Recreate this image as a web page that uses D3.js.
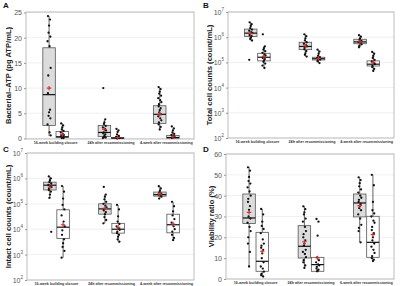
<!DOCTYPE html>
<html>
<head>
<meta charset="utf-8">
<script src="https://cdn.jsdelivr.net/npm/d3@7"></script>
<style>
  body { margin: 0; background: #fff; }
  svg { display: block; font-family: "Liberation Sans", Arial, sans-serif; }
</style>
</head>
<body>
<div id="chart"></div>
<script>
// --------------------------------------
//  Data
// --------------------------------------

const groupsABC = ["16-week building closure", "24h after recommissioning", "4-week after recommissioning"];
const groupsD = ["16-week building closure", "24h after recommissioning", "6-week after recommissioning"];

// box stats: [whiskerLow, q1, median, q3, whiskerHigh, mean], order: gray, white per group
const atpStats = [
  [0.5, 2.6, 8.7, 18, 24.3, 10], [0.05, 0.2, 0.35, 1.4, 3.0, 0.8],
  [0.05, 0.4, 1.2, 2.6, 3.8, 1.8], [0, 0.02, 0.08, 0.2, 0.5, 0.2],
  [1.6, 3.0, 4.8, 6.5, 10.2, 4.8], [0, 0.05, 0.2, 0.6, 1.2, 0.35]
];
const atpPoints = [
  [24.3, 23.6, 22.4, 21, 20.2, 19.3, 18.3, 14, 12.5, 9, 5.7, 5.2, 4.5, 4, 2.8, 1.2, 0.6],
  [3, 2.6, 2.2, 1.8, 1.5, 1.2, 0.9, 0.7, 0.5, 0.4, 0.3, 0.2, 0.1, 0.1],
  [10, 3.8, 3.2, 2.9, 2.5, 2.2, 1.9, 1.6, 1.2, 1, 0.8, 0.5, 0.3, 0.2, 0.1],
  [1.9, 1.6, 1.3, 0.8, 0.5, 0.3, 0.2, 0.1, 0.05],
  [10.2, 9.8, 9.3, 8.9, 8.5, 8, 7.6, 7.2, 6.8, 6.4, 6, 5.6, 5.2, 4.8, 4.4, 4, 3.6, 3.2, 2.8, 2.3, 1.8],
  [2.4, 2, 1.6, 1.2, 0.9, 0.7, 0.5, 0.3, 0.1]
];

const totalStats = [
  [7.4e5, 1.07e6, 1.45e6, 2.1e6, 3.9e6, 1.4e6], [6e4, 1.15e5, 1.6e5, 2.3e5, 4.3e5, 1.7e5],
  [1.7e5, 3.2e5, 4.3e5, 6.3e5, 1.3e6, 4.5e5], [9.4e4, 1.25e5, 1.4e5, 1.6e5, 3.2e5, 1.45e5],
  [4e5, 5.5e5, 6.5e5, 8.3e5, 1.2e6, 6.6e5], [4.6e4, 7.2e4, 8.5e4, 1.15e5, 2.6e5, 1e5]
];
const totalPoints = [
  [3.9e6, 3.3e6, 2.8e6, 2.3e6, 2e6, 1.8e6, 1.6e6, 1.45e6, 1.3e6, 1.2e6, 1.1e6, 9.5e5, 8.5e5, 7.4e5, 1.26e5],
  [1.3e6, 4.3e5, 3.7e5, 3.2e5, 2.8e5, 2.4e5, 2.1e5, 1.9e5, 1.7e5, 1.5e5, 1.35e5, 1.2e5, 1.05e5, 9e4, 7.5e4, 6e4],
  [1.3e6, 1.1e6, 9e5, 7.5e5, 6.3e5, 5.5e5, 4.8e5, 4.3e5, 3.8e5, 3.3e5, 2.8e5, 2.3e5, 2e5, 1.7e5],
  [3.2e5, 2.7e5, 2.2e5, 1.8e5, 1.6e5, 1.5e5, 1.4e5, 1.3e5, 1.2e5, 1.1e5, 9.4e4],
  [1.2e6, 1.05e6, 9e5, 8e5, 7.2e5, 6.5e5, 5.8e5, 5.2e5, 4.6e5, 4e5],
  [2.6e5, 2.2e5, 1.8e5, 1.5e5, 1.25e5, 1.1e5, 9.5e4, 8.5e4, 7.5e4, 6.5e4, 5.5e4, 4.6e4]
];

const intactStats = [
  [1.7e5, 3.5e5, 5.4e5, 7.1e5, 1.2e6, 4.6e5], [7.6e2, 4.3e3, 1.2e4, 5.8e4, 5e5, 1.5e4],
  [1.7e4, 3.9e4, 6.3e4, 1e5, 2.3e5, 6.6e4], [3.2e3, 7e3, 1e4, 1.7e4, 9e4, 1.2e4],
  [1.6e5, 2e5, 2.3e5, 2.9e5, 4.9e5, 2.4e5], [3.7e3, 7.2e3, 1.5e4, 3.9e4, 1.2e5, 1.6e4]
];
const intactPoints = [
  [1.2e6, 1e6, 8.5e5, 7.2e5, 6.3e5, 5.6e5, 5e5, 4.5e5, 4e5, 3.5e5, 3e5, 2.3e5, 1.7e5, 7.9e3],
  [5e5, 3e5, 1.6e5, 9e4, 6e4, 3.5e4, 2e4, 1.3e4, 9e3, 6e3, 4e3, 2.8e3, 2e3, 1.4e3, 7.6e2],
  [4.6e5, 2.3e5, 1.9e5, 1.5e5, 1.2e5, 1e5, 8.5e4, 7.2e4, 6.3e4, 5.5e4, 4.7e4, 3.9e4, 3e4, 2.3e4, 1.7e4],
  [9e4, 6e4, 3.2e4, 2e4, 1.6e4, 1.3e4, 1.1e4, 9.5e3, 8e3, 7e3, 6e3, 5e3, 4e3, 3.2e3],
  [4.9e5, 4e5, 3.3e5, 2.8e5, 2.5e5, 2.3e5, 2.1e5, 1.9e5, 1.6e5],
  [1.2e5, 8e4, 5e4, 3.5e4, 2.5e4, 1.8e4, 1.3e4, 1e4, 8e3, 6e3, 4.5e3, 3.7e3]
];

const viabStats = [
  [6, 26.6, 29.3, 40.8, 53.8, 32], [1.2, 3.7, 8.5, 22.4, 33.6, 13.3],
  [5.3, 10.1, 15.7, 25.6, 34.9, 17.9], [3.7, 3.7, 6.9, 10.4, 10.4, 10.1],
  [17.6, 29.8, 36.5, 40.8, 48.8, 35.2], [8.6, 10.4, 17.6, 30.1, 50, 21.3]
];
const viabPoints = [
  [53.6, 52, 49, 47, 45.8, 44, 42, 40, 38.5, 37, 35, 33.2, 30, 29, 27, 25, 23, 20, 17, 13, 6],
  [33.6, 31, 27.5, 25.5, 24, 22, 19, 17, 16, 15, 14, 12.3, 10, 8, 6, 5, 3.5, 2.5, 1.8, 1.2],
  [34.9, 33.5, 32, 31, 29, 27.5, 25, 23, 21.5, 20, 18.5, 17, 16, 14, 13, 12, 10.5, 9, 8, 6.5, 5.3],
  [28.8, 27.5, 20.8, 10.4, 9, 8, 7, 6.5, 5.8, 5, 4.5, 4, 3.7],
  [48.8, 47.5, 46, 44.5, 43, 41.5, 40, 39, 38, 37, 36, 35, 34, 33, 31, 29, 26, 24.5, 23, 17.6],
  [50, 45, 37, 33, 31.5, 30, 28, 27, 25, 23.5, 22, 20, 18.5, 17, 15.5, 14, 12.5, 11, 10, 9.2, 8.6]
];

const linTicksA = [0, 5, 10, 15, 20, 25];
const linTicksD = [0, 10, 20, 30, 40, 50, 60];
const logTicks = [1e2, 1e3, 1e4, 1e5, 1e6, 1e7];

// --------------------------------------
//  Canvas
// --------------------------------------

const width = 400, height = 286;

const svg = d3.select("#chart")
  .append("svg")
    .attr("width", width)
    .attr("height", height)
    .attr("viewBox", [0, 0, width, height]);

const jitter = [-1.1, 0.9, 0, -0.5, 1.3, -1.5, 0.5, 1.6, -0.8];

function panel(p) {
  const g = svg.append("g");

  const x = d3.scalePoint()
      .domain(p.groups)
      .range([p.x0 + 2, p.x1])
      .padding(0.5);

  const y = (p.log ? d3.scaleLog() : d3.scaleLinear())
      .domain(p.domain)
      .range([p.y1, p.y0]);

  // grid
  g.append("g")
    .selectAll("line")
    .data(p.ticks)
    .join("line")
      .attr("x1", p.x0).attr("x2", p.x1)
      .attr("y1", d => y(d)).attr("y2", d => y(d))
      .attr("stroke", "#ececec")
      .attr("stroke-width", 0.8);

  // frame
  g.append("rect")
    .attr("x", p.x0).attr("y", p.y0)
    .attr("width", p.x1 - p.x0).attr("height", p.y1 - p.y0)
    .attr("fill", "none")
    .attr("stroke", "#b5b5b5")
    .attr("stroke-width", 0.9);

  // y axis
  const axis = g.append("g")
    .attr("transform", `translate(${p.x0}, 0)`)
    .call(d3.axisLeft(y).tickValues(p.ticks).tickSize(2).tickPadding(2).tickFormat(""));
  axis.select(".domain").remove();
  axis.selectAll(".tick line").attr("stroke", "#999");

  const tl = axis.selectAll(".tick text")
    .attr("fill", "#555")
    .attr("font-size", 7)
    .attr("dy", "0.35em");
  if (p.log) {
    tl.each(function(d) {
      const t = d3.select(this);
      t.append("tspan").text("10");
      t.append("tspan").text(Math.round(Math.log10(d)))
        .attr("font-size", 4.5).attr("dy", "-0.9em");
    });
  } else {
    tl.text(d => d);
  }

  // y title
  g.append("text")
    .attr("transform", `translate(${p.titleX}, ${(p.y0 + p.y1) / 2}) rotate(-90)`)
    .attr("text-anchor", "middle")
    .attr("font-size", 7.6)
    .attr("font-weight", "bold")
    .attr("fill", "#222")
    .text(p.title);

  // panel letter
  g.append("text")
    .attr("x", p.letterX).attr("y", p.letterY)
    .attr("font-size", 8)
    .attr("font-weight", "bold")
    .attr("fill", "#111")
    .text(p.letter);

  // group labels
  g.append("g")
    .selectAll("text")
    .data(p.groups)
    .join("text")
      .attr("x", d => x(d))
      .attr("y", p.y1 + 5.2)
      .attr("text-anchor", "middle")
      .attr("font-size", 3.7)
      .attr("font-weight", "bold")
      .attr("fill", "#333")
      .text(d => d);

  // boxes
  const boxes = p.stats.map((s, i) => ({
    cx: x(p.groups[Math.floor(i / 2)]) + (i % 2 === 0 ? -6.6 : 6.6),
    lo: s[0], q1: s[1], med: s[2], q3: s[3], hi: s[4], mean: s[5],
    fill: i % 2 === 0 ? "#dcdcdc" : "#ffffff",
    pts: p.points[i]
  }));
  const bw = 12.5;

  const bg = g.append("g")
    .selectAll("g")
    .data(boxes)
    .join("g");

  bg.append("line")
    .attr("x1", d => d.cx).attr("x2", d => d.cx)
    .attr("y1", d => y(d.lo)).attr("y2", d => y(d.hi))
    .attr("stroke", "#222")
    .attr("stroke-width", 0.7);

  bg.append("rect")
    .attr("x", d => d.cx - bw / 2)
    .attr("width", bw)
    .attr("y", d => y(d.q3))
    .attr("height", d => Math.max(0.8, y(d.q1) - y(d.q3)))
    .attr("fill", d => d.fill)
    .attr("stroke", "#555")
    .attr("stroke-width", 0.8);

  bg.append("line")
    .attr("x1", d => d.cx - bw / 2).attr("x2", d => d.cx + bw / 2)
    .attr("y1", d => y(d.med)).attr("y2", d => y(d.med))
    .attr("stroke", "#111")
    .attr("stroke-width", 1.2);

  bg.selectAll("circle")
    .data(d => d.pts.map((v, j) => ({ cx: d.cx, v, j })))
    .join("circle")
      .attr("cx", d => d.cx + jitter[d.j % jitter.length])
      .attr("cy", d => y(d.v))
      .attr("r", 1.15)
      .attr("fill", "#111");

  // mean
  bg.append("path")
    .attr("transform", d => `translate(${d.cx}, ${y(d.mean)})`)
    .attr("d", "M-2.2,0H2.2M0,-2.2V2.2")
    .attr("stroke", "#d0312d")
    .attr("stroke-width", 1.1);
}

panel({
  letter: "A", letterX: 3, letterY: 8,
  groups: groupsABC, stats: atpStats, points: atpPoints,
  x0: 26, x1: 194, y0: 12, y1: 139, domain: [-0.1, 25.1], ticks: linTicksA,
  title: "Bacterial\u2013ATP (pg ATP/mL)", titleX: 11
});

panel({
  letter: "B", letterX: 203, letterY: 8, log: true,
  groups: groupsABC, stats: totalStats, points: totalPoints,
  x0: 228, x1: 394, y0: 12, y1: 138, domain: [1e2, 1e7], ticks: logTicks,
  title: "Total cell counts (count/mL)", titleX: 212
});

panel({
  letter: "C", letterX: 3, letterY: 152, log: true,
  groups: groupsABC, stats: intactStats, points: intactPoints,
  x0: 27, x1: 194, y0: 153, y1: 280, domain: [1e2, 1e7], ticks: logTicks,
  title: "Intact cell counts (count/mL)", titleX: 11
});

panel({
  letter: "D", letterX: 203, letterY: 152,
  groups: groupsD, stats: viabStats, points: viabPoints,
  x0: 226, x1: 394, y0: 154, y1: 279, domain: [0, 60], ticks: linTicksD,
  title: "Viability ratio (%)", titleX: 214
});
</script>
</body>
</html>
